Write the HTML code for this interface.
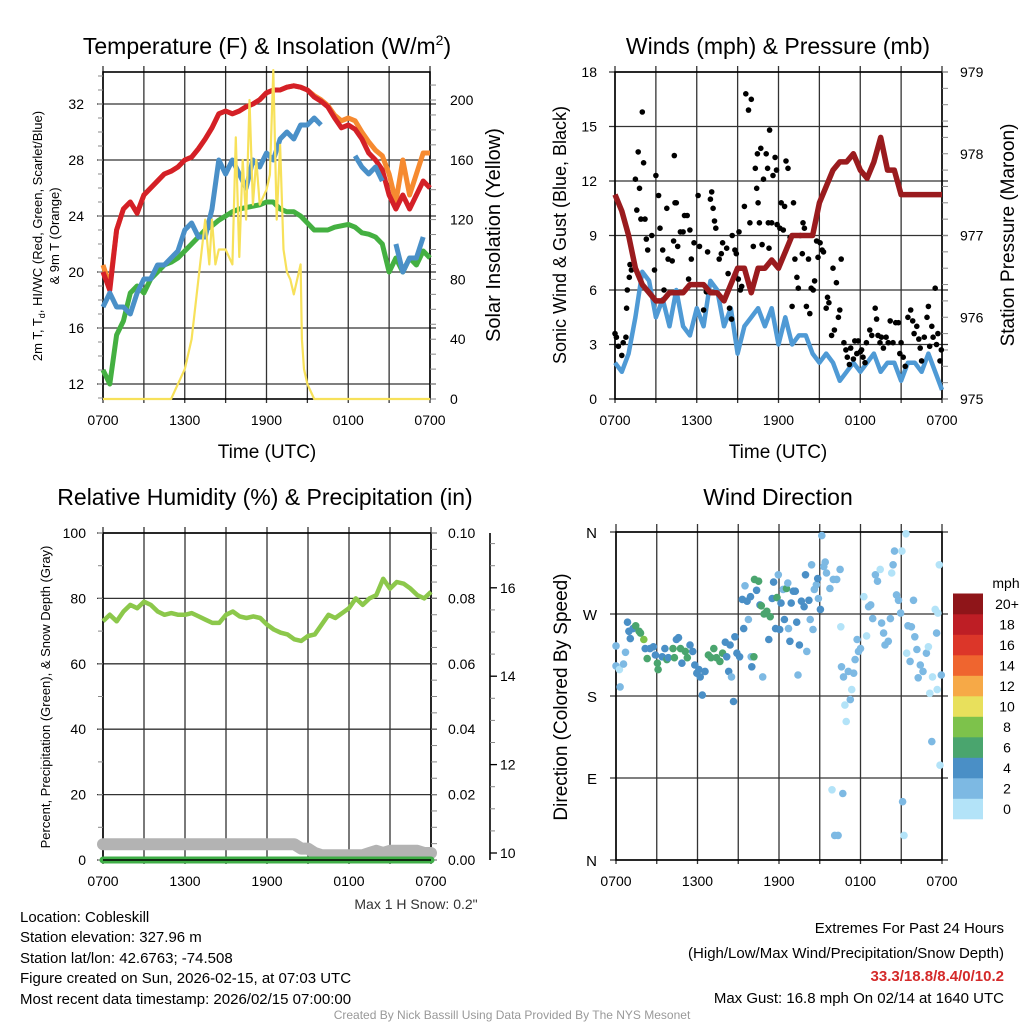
<!DOCTYPE html>
<html><head><meta charset="utf-8">
<style>
html,body{margin:0;padding:0;background:#fff;}
svg{display:block;font-family:"Liberation Sans",sans-serif;}
</style></head>
<body>
<svg id="fig" width="1024" height="1024" viewBox="0 0 1024 1024" xmlns="http://www.w3.org/2000/svg">
<rect width="1024" height="1024" fill="#fff"/>
<g id="p1"></g>
<g id="p2"></g>
<g id="p3"></g>
<g id="p4"></g>
<text x="267" y="54" font-size="23" text-anchor="middle">Temperature (F) &amp; Insolation (W/m<tspan font-size="14" dy="-9">2</tspan><tspan dy="9">)</tspan></text>
<text x="778" y="54" font-size="23" text-anchor="middle">Winds (mph) &amp; Pressure (mb)</text>
<text x="265" y="505" font-size="23" text-anchor="middle">Relative Humidity (%) &amp; Precipitation (in)</text>
<text x="778" y="505" font-size="23" text-anchor="middle">Wind Direction</text>
<g font-size="13" text-anchor="middle">
<text transform="translate(42,236) rotate(-90)">2m T, T<tspan font-size="9" dy="3">d</tspan><tspan dy="-3">, HI/WC (Red, Green, Scarlet/Blue)</tspan></text>
<text transform="translate(59,236) rotate(-90)">&amp; 9m T (Orange)</text>
</g>
<text transform="translate(500,235) rotate(-90)" font-size="20" text-anchor="middle">Solar Insolation (Yellow)</text>
<text x="267" y="458" font-size="19" text-anchor="middle">Time (UTC)</text>
<text transform="translate(566,235) rotate(-90)" font-size="18" text-anchor="middle">Sonic Wind &amp; Gust (Blue, Black)</text>
<text transform="translate(1014,235) rotate(-90)" font-size="19" text-anchor="middle">Station Pressure (Maroon)</text>
<text x="778" y="458" font-size="19" text-anchor="middle">Time (UTC)</text>
<text transform="translate(50,697) rotate(-90)" font-size="13" text-anchor="middle">Percent, Precipitation (Green), &amp; Snow Depth (Gray)</text>
<text transform="translate(567,697) rotate(-90)" font-size="19" text-anchor="middle">Direction (Colored By Speed)</text>
<text x="416" y="909" font-size="14" text-anchor="middle" fill="#333">Max 1 H Snow: 0.2"</text>
<g font-size="15">
<text x="20" y="922">Location: Cobleskill</text>
<text x="20" y="942">Station elevation: 327.96 m</text>
<text x="20" y="963">Station lat/lon: 42.6763; -74.508</text>
<text x="20" y="983">Figure created on Sun, 2026-02-15, at 07:03 UTC</text>
<text x="20" y="1004">Most recent data timestamp: 2026/02/15 07:00:00</text>
</g>
<g font-size="15" text-anchor="end">
<text x="1004" y="933">Extremes For Past 24 Hours</text>
<text x="1004" y="958">(High/Low/Max Wind/Precipitation/Snow Depth)</text>
<text x="1004" y="981" fill="#d42a2a" font-weight="bold">33.3/18.8/8.4/0/10.2</text>
<text x="1004" y="1003">Max Gust: 16.8 mph On 02/14 at 1640 UTC</text>
</g>
<text x="512" y="1019" font-size="12" text-anchor="middle" fill="#999">Created By Nick Bassill Using Data Provided By The NYS Mesonet</text>
</svg>
<script>
// ---------- data ----------
const timeLabels = ["0700","1300","1900","0100","0700"];
const halfHours = [0,0.5,1,1.5,2,2.5,3,3.5,4,4.5,5,5.5,6,6.5,7,7.5,8,8.5,9,9.5,10,10.5,11,11.5,12,12.5,13,13.5,14,14.5,15,15.5,16,16.5,17,17.5,18,18.5,19,19.5,20,20.5,21,21.5,22,22.5,23,23.5,24];
const tempRed = [20,18.7,23,24.5,25,24.2,25.5,26,26.5,27,27.2,27.5,28,28.2,28.8,29.5,30.3,31.3,31.5,31.3,31.5,31.8,32,32.3,32.8,33,33,33.2,33.3,33.2,33,32.5,32.2,31.8,31,30.3,30.5,30.2,29.5,28.5,28,27.3,25.5,24.5,25.5,24.5,25.5,26.5,26];
const temp9mOrange = [20.5,19,23,24.5,25,24.2,25.5,26,26.5,27,27.2,27.5,28,28.2,28.8,29.5,30.3,31.3,31.5,31.3,31.5,31.8,32,32.3,32.8,33,33,33.2,33.3,33.2,33,32.6,32.3,31.9,31.2,30.8,31,30.8,30,29.3,28.7,28.3,27,25,28,25.5,27,28.5,28.5];
const dewGreen = [13,12,15.5,16.5,18.5,19,18.5,19.5,20,20.5,20.7,21,21.5,22,22.5,23,23.3,23.7,24,24.3,24.5,24.6,24.7,24.8,25,25,24.5,24.3,24.3,24,23.5,23,23,23,23.2,23.3,23.4,23.2,22.8,22.7,22.5,22,20,21,20,21,20.5,21.5,21];
const windChillBlue = [17.5,18.5,17.5,17.5,17,18.5,19.5,19.5,20.5,20.5,21,21.5,23,23.5,22.5,22.5,24.5,28,27,28,27,26,28,27.5,28.5,28,29.5,30,29.5,30.5,30.5,31,30.5,null,null,null,null,28.3,27.5,27,27.5,26.5,null,22,20,21,21,22.5,null];
const solarTimes = [0,5,5.5,6,6.5,7,7.5,7.8,8,8.25,8.5,9,9.5,9.75,10,10.25,10.5,10.75,11,11.25,11.5,12,12.25,12.5,12.75,13,13.25,13.5,13.75,14,14.5,14.6,14.75,15,15.5,24];
const solarValues = [0,0,10,20,40,80,120,90,120,90,100,100,90,175,95,160,120,200,130,160,130,140,150,220,120,170,100,85,80,70,90,40,20,10,0,0];
const windBlue = [2,1.5,2.5,4.5,7,6.5,4.5,5.5,4,6,4,3.5,5,4,6.5,6,4,5,2.5,4,4.5,5,4,5,3,4.5,3,3.5,3.5,2.5,2,2.5,2,1,1.5,2,1.5,2,2.5,1.5,2,2,1,2,2,1.5,2.5,1.5,0.5];
const pressure = [977.5,977.3,977.0,976.6,976.4,976.3,976.2,976.2,976.3,976.3,976.3,976.4,976.4,976.4,976.3,976.3,976.2,976.4,976.6,976.6,976.3,976.6,976.6,976.7,976.6,976.8,977.0,977.0,977.0,977.0,977.4,977.6,977.8,977.9,977.9,978.0,977.8,977.7,977.9,978.2,977.8,977.8,977.5,977.5,977.5,977.5,977.5,977.5,977.5];
const gustTimes = [0,0.1,0.25,0.5,0.6,0.8,0.85,0.9,1.05,1.1,1.2,1.5,1.6,1.7,1.8,1.9,2.0,2.1,2.2,2.3,2.4,2.7,2.9,3.0,3.2,3.3,3.5,3.6,3.8,3.9,4.2,4.3,4.35,4.4,4.5,4.6,4.8,5.0,5.1,5.3,5.4,5.5,5.6,5.8,6.1,6.2,6.5,6.7,6.8,7.0,7.1,7.2,7.3,7.4,7.65,7.8,7.9,8.2,8.3,8.4,8.55,8.6,8.8,8.9,9.05,9.2,9.3,9.1,9.5,9.6,9.8,9.9,10.0,10.15,10.3,10.4,10.45,10.5,10.6,10.7,10.8,10.9,11.1,11.2,11.25,11.3,11.35,11.5,11.6,11.75,11.85,11.9,12.1,12.2,12.35,12.45,12.55,12.7,12.85,13.0,13.1,13.2,13.35,13.45,13.6,13.75,13.8,13.9,14.05,14.2,14.3,14.4,14.55,14.65,14.8,14.9,15.05,15.2,15.3,15.5,15.6,15.7,15.9,16.0,16.1,16.25,16.4,16.5,16.6,16.8,16.95,17.05,17.2,17.3,17.5,17.6,17.75,17.85,18.0,18.1,18.2,18.35,18.45,18.7,18.85,19.1,19.2,19.3,19.45,19.55,19.7,19.9,20.05,20.2,20.4,20.6,20.8,20.9,21.0,21.15,21.3,21.5,21.7,21.85,21.95,22.15,22.3,22.4,22.5,22.7,22.9,23.0,23.1,23.25,23.35,23.5,23.6,23.7,23.85,23.95];
const gustValues = [3.6,3.4,2.9,2.4,3.1,3.4,5.0,6.0,6.7,7.4,7.1,12.1,10.4,13.6,11.6,9.9,15.8,13.0,9.9,8.8,8.2,9.0,7.1,12.3,11.2,9.4,8.2,6.0,10.5,7.7,7.6,8.7,13.4,10.8,10.8,8.4,9.2,9.2,10.1,10.1,6.6,9.3,7.7,8.6,11.2,8.4,4.9,5.9,8.1,11.0,11.4,10.5,9.8,9.4,7.7,8.0,8.6,8.3,6.9,5.0,4.4,9.0,8.2,8.0,6.6,6.0,6.2,9.2,10.6,16.8,15.9,9.7,16.5,8.4,12.7,11.6,13.5,10.8,9.7,13.8,8.5,12.1,13.5,12.7,9.7,8.3,14.8,9.7,12.3,13.3,12.6,9.6,9.4,10.8,9.3,10.6,13.1,12.7,8.9,5.1,10.8,7.7,6.7,6.1,9.0,8.0,9.7,9.4,5.1,7.7,4.7,6.1,6.0,6.5,8.7,7.8,8.6,8.2,8.1,5.0,5.6,5.3,3.5,7.2,3.8,6.4,4.5,4.9,7.7,3.1,2.7,2.3,1.9,2.8,2.2,3.2,2.5,3.2,2.6,2.7,2.3,2.0,3.1,3.8,3.5,5.0,4.4,3.5,3.1,3.4,2.8,3.4,3.1,4.3,3.1,4.2,4.2,2.5,3.1,2.3,1.8,4.5,4.9,4.3,3.6,4.0,3.3,2.8,2.1,3.4,4.5,5.1,2.9,4.0,3.4,6.1,3.0,3.6,2.1,2.7];
const rhGreen = [73,75,73,76,78,77,79,78,76,75,75.5,75,75,75.5,74.5,73.5,72.5,72.5,75,76,74.5,74,74.5,74,72,70.5,69.5,69,67.5,67,68.5,69,72,75,74,75.5,77,80,78,80,81,86,83,85,84.5,83,81,80,82];
const precip = [0,0,0,0,0,0,0,0,0,0,0,0,0,0,0,0,0,0,0,0,0,0,0,0,0,0,0,0,0,0,0,0,0,0,0,0,0,0,0,0,0,0,0,0,0,0,0,0,0];
const snowTimes = [0,12,13,14,14.5,15,15.5,16,16.5,17,18,19,19.5,20,20.5,21,22,23,23.5,24];
const snowDepth = [10.2,10.2,10.2,10.2,10.1,10.1,10.0,9.95,9.95,9.95,9.95,9.95,10.0,10.05,10.0,10.05,10.05,10.05,10.0,10.0];
const dirTimes = [0,0,0.25,0.3,0.55,0.7,0.85,0.95,1.05,1.25,1.45,1.7,1.8,2.05,2.15,2.3,2.5,2.75,2.9,3.05,3.1,3.4,3.6,3.75,3.85,4.2,4.3,4.45,4.6,4.75,4.85,5.1,5.25,5.45,5.65,5.8,5.95,6.1,6.2,6.35,6.55,6.8,7.0,7.2,7.4,7.65,7.85,8.05,8.15,8.3,8.4,8.5,8.65,8.75,8.9,9.1,9.3,9.4,9.5,9.65,9.75,9.9,9.95,10.0,10.15,10.2,10.35,10.5,10.6,10.7,10.8,10.9,11.1,11.25,11.35,11.5,11.6,11.75,11.85,11.95,12.05,12.15,12.3,12.4,12.55,12.65,12.7,12.8,12.9,13.05,13.2,13.3,13.4,13.5,13.65,13.85,13.95,14.05,14.2,14.3,14.4,14.5,14.6,14.75,14.85,14.9,15.05,15.15,15.3,15.4,15.5,15.75,15.9,16.0,16.1,16.25,16.35,16.5,16.55,16.6,16.7,16.75,16.85,16.95,17.1,17.25,17.35,17.5,17.6,17.75,17.85,18.0,18.25,18.45,18.6,18.75,18.9,19.1,19.25,19.45,19.55,19.7,19.8,20.05,20.2,20.3,20.4,20.5,20.65,20.8,20.95,21.05,21.1,21.2,21.35,21.4,21.5,21.65,21.75,21.9,22.0,22.15,22.25,22.4,22.6,22.85,23.0,23.1,23.25,23.3,23.5,23.6,23.65,23.7,23.8,23.95,23.85];
const dirValues = [235,213,209,190,215,228,261,251,243,254,257,251,249,242,232,221,232,234,225,216,209,223,232,220,222,232,222,242,244,232,216,229,222,236,229,214,205,209,201,181,207,225,222,232,222,218,227,239,223,207,236,201,174,245,227,223,286,254,301,284,264,289,223,212,223,308,296,306,280,279,201,270,273,242,267,287,305,254,288,313,253,282,297,264,298,304,254,240,282,295,295,261,203,236,284,278,313,229,285,264,324,253,297,302,309,287,275,356,322,327,315,298,77,308,27,308,27,319,256,212,73,201,170,152,207,176,187,205,220,242,229,232,289,246,278,280,265,313,306,319,260,249,236,240,265,315,324,339,291,285,271,339,64,27,358,227,257,218,256,285,245,231,200,214,207,227,234,183,130,201,275,249,187,271,324,203,104];
const dirSpeeds = [3,2,1,2,3,2,4,4,4,4,6,7,6,8,4,6,4,4,4,6,6,4,4,6,4,6,7,4,4,6,4,6,6,4,4,4,4,4,4,4,4,6,6,6,6,6,6,4,4,4,4,2,4,4,4,4,4,4,2,4,2,4,2,4,6,6,4,6,4,6,2,6,6,4,6,4,4,4,6,2,4,4,2,4,6,2,2,4,4,4,4,4,2,4,4,4,4,2,4,2,2,2,2,2,4,2,4,2,2,2,2,2,1,2,2,2,2,2,1,2,3,2,1,1,2,2,1,2,2,2,2,2,1,1,2,2,2,2,2,1,2,2,2,2,2,1,2,3,2,2,3,1,2,1,1,1,2,2,2,3,2,2,2,2,2,2,1,1,2,1,1,2,1,1,1,2,1,2,1,2,1,2,1];
const speedLabels = ["0","2","4","6","8","10","12","14","16","18","20+"];
const speedColors = ["#b3e3f8","#7db9e3","#4a8fc6","#4aa56e","#7dc24b","#e8e05c","#f6a947","#ef652f","#dc3629","#be1e25","#8f1519"];

// ---------- helpers ----------
const NS = "http://www.w3.org/2000/svg";
function mk(parent, tag, attrs, text) {
  const e = document.createElementNS(NS, tag);
  for (const k in attrs) e.setAttribute(k, attrs[k]);
  if (text !== undefined) e.textContent = text;
  parent.appendChild(e);
  return e;
}
function pathFrom(ts, vs, sx, sy) {
  let d = "", pen = false;
  for (let i = 0; i < ts.length; i++) {
    if (vs[i] === null || vs[i] === undefined) { pen = false; continue; }
    d += (pen ? "L" : "M") + sx(ts[i]).toFixed(1) + "," + sy(vs[i]).toFixed(1);
    pen = true;
  }
  return d;
}
function frame(g, X0, X1, Y0, Y1, yTicks, sy, ext) {
  for (let i = 0; i <= 8; i++) {
    const x = X0 + (X1 - X0) * i / 8;
    const l = mk(g, "line", {x1: x, x2: x, y1: Y0 - ext, y2: Y1 + 4, stroke: "#333", "stroke-width": 1.3});
    
    
  }
  yTicks.forEach(v => {
    const y = sy(v);
    const l = mk(g, "line", {x1: X0 - 6, x2: X1 + 6, y1: y, y2: y, stroke: "#333", "stroke-width": 1.3});
    
    
  });
  const r = mk(g, "rect", {x: X0, y: Y0, width: X1 - X0, height: Y1 - Y0, fill: "none", stroke: "#000", "stroke-width": 1.6});
  
  
  timeLabels.forEach((s, i) => {
    const t = mk(g, "text", {x: X0 + (X1 - X0) * i / 4, y: Y1 + 26, "font-size": 14, "text-anchor": "middle"}, s);
    
    
  });
}
function yLabels(g, ticks, sy, x, anchor, fmt) {
  ticks.forEach(v => {
    const t = mk(g, "text", {x: x, y: sy(v) + 5, "font-size": 14, "text-anchor": anchor}, fmt(v));
    
    
  });
}
function minorTicks(g, x, from, to, step, sy, len) {
  for (let v = from; v <= to + 1e-9; v += step) {
    const y = sy(v);
    const l = mk(g, "line", {x1: x, x2: x + len, y1: y, y2: y, stroke: "#888", "stroke-width": 1});
    
    
  }
}

// ---------- panel 1: temperature ----------
(function(){
  const g = document.getElementById("p1");
  const X0 = 103, X1 = 430, Y0 = 72, Y1 = 399;
  const sx = t => X0 + (X1 - X0) * t / 24;
  const sy = v => 384 - (v - 12) * 14;
  const sr = v => 399 - v * 1.495;
  frame(g, X0, X1, Y0, Y1, [12,16,20,24,28,32], sy, 6);
  yLabels(g, [12,16,20,24,28,32], sy, 84, "end", v => String(v));
  yLabels(g, [0,40,80,120,160,200], sr, 450, "start", v => String(v));
  minorTicks(g, X1, 0, 210, 10, sr, 6);
  minorTicks(g, X0 - 5, 11, 34, 1, sy, 5);
  const orange = mk(g, "path", {d: pathFrom(halfHours, temp9mOrange, sx, sy), fill: "none", stroke: "#f68a30", "stroke-width": 5, "stroke-linejoin": "round"});
  
  
  const red = mk(g, "path", {d: pathFrom(halfHours, tempRed, sx, sy), fill: "none", stroke: "#d42027", "stroke-width": 5, "stroke-linejoin": "round"});
  
  
  const green = mk(g, "path", {d: pathFrom(halfHours, dewGreen, sx, sy), fill: "none", stroke: "#44b041", "stroke-width": 5, "stroke-linejoin": "round"});
  
  
  const blue = mk(g, "path", {d: pathFrom(halfHours, windChillBlue, sx, sy), fill: "none", stroke: "#4a90c8", "stroke-width": 5, "stroke-linejoin": "round"});
  
  
  const sol = mk(g, "path", {d: pathFrom(solarTimes, solarValues, sx, sr), fill: "none", stroke: "#f7e15a", "stroke-width": 2.2, "stroke-linejoin": "round"});
  
  
})();

// ---------- panel 2: wind ----------
(function(){
  const g = document.getElementById("p2");
  const X0 = 615, X1 = 942, Y0 = 72, Y1 = 399;
  const sx = t => X0 + (X1 - X0) * t / 24;
  const sy = v => Y1 - v * (Y1 - Y0) / 18;
  const sp = p => Y1 - (p - 975) * (Y1 - Y0) / 4;
  frame(g, X0, X1, Y0, Y1, [0,3,6,9,12,15,18], sy, 6);
  yLabels(g, [0,3,6,9,12,15,18], sy, 597, "end", v => String(v));
  yLabels(g, [975,976,977,978,979], sp, 960, "start", v => String(v));
  minorTicks(g, X1, 975, 979, 0.2, sp, 6);
  const blue = mk(g, "path", {d: pathFrom(halfHours, windBlue, sx, sy), fill: "none", stroke: "#4f9ad5", "stroke-width": 4.5, "stroke-linejoin": "round"});
  
  
  const n = Math.min(gustTimes.length, gustValues.length);
  for (let i = 0; i < n; i++) {
    const c = mk(g, "circle", {cx: sx(gustTimes[i]).toFixed(1), cy: sy(gustValues[i]).toFixed(1), r: 2.8, fill: "#000"});
    
    
  }
  const pr = mk(g, "path", {d: pathFrom(halfHours, pressure, sx, sp), fill: "none", stroke: "#9a1b1e", "stroke-width": 5.5, "stroke-linejoin": "round"});
  
  
})();

// ---------- panel 3: humidity ----------
(function(){
  const g = document.getElementById("p3");
  const X0 = 103, X1 = 431, Y0 = 533, Y1 = 860;
  const sx = t => X0 + (X1 - X0) * t / 24;
  const sy = v => Y1 - v * (Y1 - Y0) / 100;
  const sq = v => Y1 - v * (Y1 - Y0) / 0.1;
  const ss = v => 853 - (v - 10) * 44.2;
  frame(g, X0, X1, Y0, Y1, [0,20,40,60,80,100], sy, 6);
  yLabels(g, [0,20,40,60,80,100], sy, 86, "end", v => String(v));
  yLabels(g, [0,0.02,0.04,0.06,0.08,0.1], sq, 448, "start", v => v.toFixed(2));
  minorTicks(g, X1, 0, 0.1, 0.005, sq, 6);
  minorTicks(g, X0 - 5, 0, 100, 10, sy, 5);
  const ax = mk(g, "line", {x1: 490, x2: 490, y1: 533, y2: 860, stroke: "#000", "stroke-width": 1.6});
  
  
  minorTicks(g, 490, 10, 17, 0.5, ss, 5);
  [10,12,14,16].forEach(v => {
    const l = mk(g, "line", {x1: 490, x2: 497, y1: ss(v), y2: ss(v), stroke: "#000", "stroke-width": 1.3});
    
    
  });
  yLabels(g, [10,12,14,16], ss, 500, "start", v => String(v));
  const snow = mk(g, "path", {d: pathFrom(snowTimes, snowDepth, sx, ss), fill: "none", stroke: "#b3b3b3", "stroke-width": 12, "stroke-linejoin": "round", "stroke-linecap": "round"});
  
  
  const pq = mk(g, "path", {d: pathFrom(halfHours, precip, sx, sq), fill: "none", stroke: "#3fae47", "stroke-width": 7, "stroke-linecap": "round"});
  
  
  const pl = mk(g, "line", {x1: X0, x2: X1, y1: Y1, y2: Y1, stroke: "#000", "stroke-width": 1.6});
  
  
  const rh = mk(g, "path", {d: pathFrom(halfHours, rhGreen, sx, sy), fill: "none", stroke: "#8cc84b", "stroke-width": 4.5, "stroke-linejoin": "round"});
  
  
})();

// ---------- panel 4: direction ----------
(function(){
  const g = document.getElementById("p4");
  const X0 = 616, X1 = 942, Y0 = 532, Y1 = 860;
  const sx = t => X0 + (X1 - X0) * t / 24;
  const sy = d => Y1 - d * (Y1 - Y0) / 360;
  frame(g, X0, X1, Y0, Y1, [0,90,180,270,360], sy, 8);
  ["N","E","S","W","N"].forEach((s, i) => {
    const t = mk(g, "text", {x: 597, y: sy(i * 90) + 6, "font-size": 15, "text-anchor": "end"}, s);
    
    
  });
  const n = Math.min(dirTimes.length, dirValues.length, dirSpeeds.length);
  for (let i = 0; i < n; i++) {
    const bin = Math.max(0, Math.min(10, Math.floor(dirSpeeds[i] / 2)));
    const c = mk(g, "circle", {cx: sx(dirTimes[i]).toFixed(1), cy: sy(dirValues[i]).toFixed(1), r: 3.8, fill: speedColors[bin]});
    
    
  }
  const ut = mk(g, "text", {x: 1006, y: 588, "font-size": 14, "text-anchor": "middle"}, "mph");
  
  
  const bh = 20.5;
  speedLabels.forEach((s, i) => {
    const y = 819 - (i + 1) * bh;
    const r = mk(g, "rect", {x: 953, y: y.toFixed(1), width: 30, height: bh + 0.3, fill: speedColors[i]});
    
    
    const t = mk(g, "text", {x: 1007, y: (y + bh / 2 + 5).toFixed(1), "font-size": 14, "text-anchor": "middle"}, s);
    
    
  });
})();
</script>
</body></html>
